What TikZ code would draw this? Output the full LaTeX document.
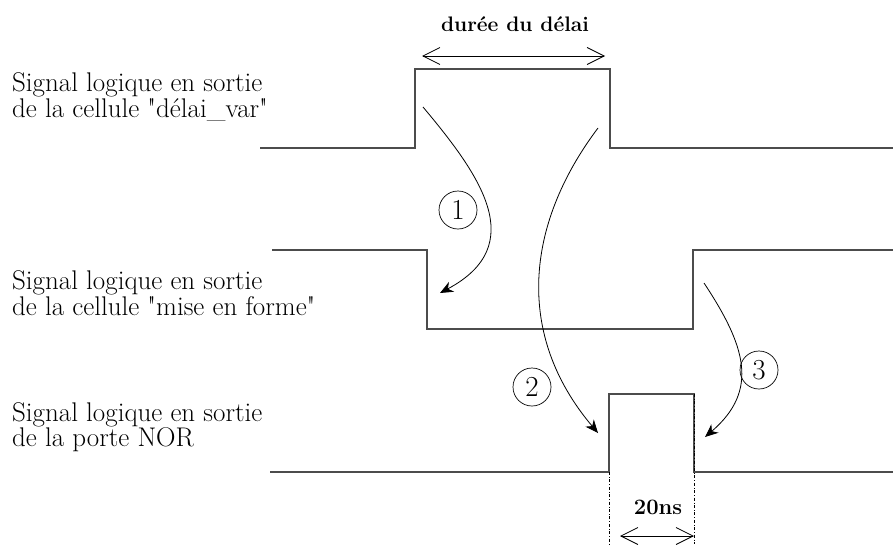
\documentclass[tikz,border=0pt]{standalone}
\usetikzlibrary{arrows.meta}

\begin{document}
\begin{tikzpicture}[x=1pt,y=-1pt, sig/.style={line width=1.2pt,draw=black!70},
  lbl/.style={anchor=west,align=left,inner sep=0pt,font=\fontsize{27}{24}\selectfont},
  num/.style={draw,circle,minimum size=38pt,inner sep=0pt,line width=0.7pt,font=\fontsize{29}{29}\selectfont},
  cause/.style={-{Stealth[length=13pt,width=11pt,inset=4pt]},line width=0.8pt},
  span/.style={{Straight Barb[length=17pt,width=17pt]}-{Straight Barb[length=17pt,width=17pt]},line width=0.8pt},
  guide/.style={dash dot,line width=0.7pt}]
  \useasboundingbox (0,0) rectangle (893,544);
  % signals
  \draw[sig] (260,148) -- (415,148) -- (415,69) -- (610,69) -- (610,148) -- (893,148);
  \draw[sig] (272,250) -- (427,250) -- (427,329) -- (693,329) -- (693,250) -- (893,250);
  \draw[sig] (270,472) -- (609,472) -- (609,394) -- (694,394) -- (694,472) -- (893,472);
  % labels
  \node[lbl] (s1) at (12,97) {Signal logique en sortie\\de la cellule \textquotedbl délai\_var\textquotedbl};
  \node[lbl] (s2) at (12,293) {Signal logique en sortie\\de la cellule \textquotedbl mise en forme\textquotedbl};
  \node[lbl] (s3) at (12,427) {Signal logique en sortie\\de la porte NOR};
  % delay span
  \coordinate (d1) at (422,56);
  \coordinate (d2) at (605,56);
  \draw[span] (d1) -- (d2);
  \node[anchor=base,font=\bfseries\fontsize{21}{21}\selectfont] (dur) at (515,31) {durée du délai};
  % pulse width
  \coordinate (g1t) at (609,472);
  \coordinate (g1b) at (609,544);
  \coordinate (g2t) at (694,394);
  \coordinate (g2b) at (694,544);
  \draw[guide] (g1t) -- (g1b);
  \draw[guide] (g2t) -- (g2b);
  \coordinate (w1) at (620,536);
  \coordinate (w2) at (694,536);
  \draw[span] (w1) -- (w2);
  \node[anchor=base,font=\bfseries\fontsize{22}{22}\selectfont] (ns) at (658,514) {20ns};
  % causes
  \coordinate (a1) at (423,107);
  \coordinate (b1) at (440,293);
  \coordinate (a2) at (598,128);
  \coordinate (b2) at (598,433);
  \coordinate (a3) at (704,283);
  \coordinate (b3) at (705,437);
  \draw[cause] (a1) .. controls (480,175) and (530,245) .. (b1);
  \draw[cause] (a2) .. controls (525,225) and (515,335) .. (b2);
  \draw[cause] (a3) .. controls (745,345) and (760,390) .. (b3);
  \node[num] (n1) at (458,210) {1};
  \node[num] (n2) at (532,387) {2};
  \node[num] (n3) at (759,370) {3};
\end{tikzpicture}
\end{document}
